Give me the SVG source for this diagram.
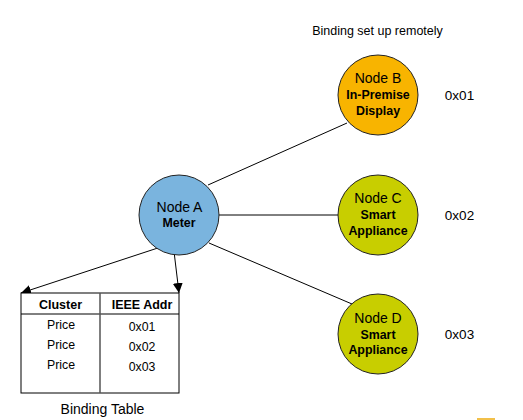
<svg xmlns="http://www.w3.org/2000/svg" width="523" height="420" viewBox="0 0 523 420">
<defs>
<style>
text{font-family:"Liberation Sans",Arial,sans-serif;fill:#000;text-anchor:middle}
.t{font-size:14px}
.b{font-size:12.4px;font-weight:bold}
.s{font-size:12.3px}
.h{font-size:13.5px}
.node{stroke:#222;stroke-width:1}
.ln{stroke:#000;stroke-width:1;fill:none}
</style>
<marker id="ah" viewBox="0 0 10 10" refX="10" refY="5" markerWidth="10" markerHeight="10" markerUnits="userSpaceOnUse" orient="auto">
<path d="M0,0 L10,5 L0,10 z" fill="#000"/>
</marker>
</defs>
<rect width="523" height="420" fill="#fff"/>
<g id="connectors">
<line class="ln" x1="208" y1="185" x2="347" y2="123"/>
<line class="ln" x1="219" y1="215" x2="338" y2="215"/>
<line class="ln" x1="209" y1="243" x2="352" y2="304"/>
<line class="ln" x1="173" y1="243" x2="21" y2="293" marker-end="url(#ah)"/>
<line class="ln" x1="173" y1="243" x2="179" y2="293" marker-end="url(#ah)"/>
</g>
<g id="nodeA">
<circle class="node" cx="179" cy="215" r="40" fill="#7AB4DE"/>
<text class="t" x="179.5" y="212">Node A</text>
<text class="b" x="179" y="226.5">Meter</text>
</g>
<g id="nodeB">
<circle class="node" cx="378" cy="95" r="40" fill="#F8B400"/>
<text class="t" x="378" y="83">Node B</text>
<text class="b" x="378" y="99">In-Premise</text>
<text class="b" x="378" y="115">Display</text>
</g>
<g id="nodeC">
<circle class="node" cx="378" cy="215" r="40" fill="#C8CE00"/>
<text class="t" x="378" y="203">Node C</text>
<text class="b" x="378" y="218.5">Smart</text>
<text class="b" x="378" y="235">Appliance</text>
</g>
<g id="nodeD">
<circle class="node" cx="378" cy="334" r="40" fill="#C8CE00"/>
<text class="t" x="378" y="323">Node D</text>
<text class="b" x="378" y="338.5">Smart</text>
<text class="b" x="378" y="354">Appliance</text>
</g>
<g id="labels">
<text x="377.5" y="34.5" style="font-size:12.5px">Binding set up remotely</text>
<text class="h" x="459.5" y="100">0x01</text>
<text class="h" x="459.5" y="219.5">0x02</text>
<text class="h" x="459.5" y="339">0x03</text>
</g>
<g id="bindingTable">
<rect x="21" y="293" width="158" height="100" fill="#fff" stroke="#000" stroke-width="1"/>
<line x1="21" y1="314" x2="179" y2="314" stroke="#000" stroke-width="1"/>
<line x1="100" y1="293" x2="100" y2="393" stroke="#555" stroke-width="1.5"/>
<text x="60.5" y="308.5" style="font-size:12.5px;font-weight:bold">Cluster</text>
<text x="142" y="308.5" style="font-size:12.5px;font-weight:bold">IEEE Addr</text>
<text class="s" x="61" y="329">Price</text>
<text class="s" x="61" y="349">Price</text>
<text class="s" x="61" y="369">Price</text>
<text class="s" x="142" y="331">0x01</text>
<text class="s" x="142" y="351">0x02</text>
<text class="s" x="142" y="371">0x03</text>
<text class="t" x="102.5" y="413.5">Binding Table</text>
</g>
<rect x="477" y="418" width="18" height="2" fill="#F2C04A"/>
</svg>
